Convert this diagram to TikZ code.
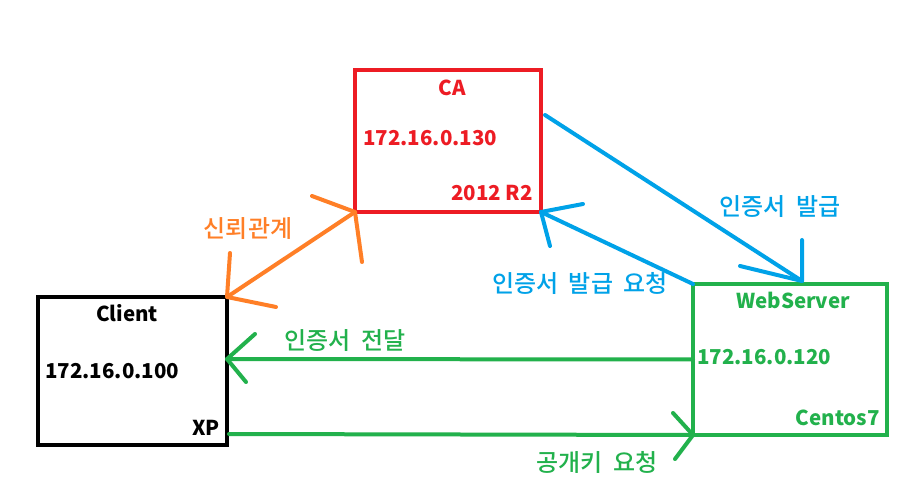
\documentclass[tikz,border=0pt]{standalone}
\usepackage{fontspec}
\setmainfont{Noto Sans CJK KR}
\newfontfamily\krfont{Noto Sans CJK KR Medium}[WordSpace=1.9]
\usetikzlibrary{calc}
\definecolor{pred}{RGB}{237,28,36}
\definecolor{pgreen}{RGB}{34,177,76}
\definecolor{pblue}{RGB}{0,162,232}
\definecolor{porange}{RGB}{255,127,39}
\tikzset{
  box/.style={draw, line width=4.5pt, inner sep=0pt, outer sep=0pt, anchor=north west},
  ln/.style={line width=4pt, line cap=round, line join=round},
  lat/.style={font=\fontsize{20.5}{22}\selectfont\bfseries, inner sep=0pt},
  kor/.style={font=\krfont\fontsize{24}{26}\selectfont, inner sep=0pt},
}
\begin{document}
\begin{tikzpicture}[x=1pt,y=-1pt]
\useasboundingbox[fill=white] (0,0) rectangle (907,502);
% boxes
\node[box, draw=pred, minimum width=186pt, minimum height=142pt] (ca) at (355,70) {};
\node[box, draw=black, minimum width=189pt, minimum height=148pt] (client) at (38,297) {};
\node[box, draw=pgreen, minimum width=194pt, minimum height=151pt] (ws) at (693,284) {};
% box texts
\node[lat, text=pred] (caname) at (452,88) {CA};
\node[lat, text=pred, anchor=west] (caip) at (363,138) {172.16.0.130};
\node[lat, text=pred, anchor=east] (caos) at (533,193) {2012 R2};
\node[lat, text=black] (clname) at (127,313) {Client};
\node[lat, text=black, anchor=west] (clip) at (45,371) {172.16.0.100};
\node[lat, text=black, anchor=east] (clos) at (220,428) {XP};
\node[lat, text=pgreen] (wsname) at (793,300) {WebServer};
\node[lat, text=pgreen, anchor=west] (wsip) at (697,357) {172.16.0.120};
\node[lat, text=pgreen, anchor=east] (wsos) at (880,418) {Centos7};
% labels
\node[kor, text=porange] (trust) at (248,229) {신뢰관계};
\node[kor, text=pblue] (issue) at (780,207) {인증서 발급};
\node[kor, text=pblue] (req) at (580,283) {인증서 발급 요청};
\node[kor, text=pgreen] (deliver) at (345,341) {인증서 전달};
\node[kor, text=pgreen] (pubreq) at (597,462) {공개키 요청};
% orange double arrow
\draw[ln, porange] (client.north east) -- (ca.south west);
\draw[ln, porange] (ca.south west) ++(-43,-16) -- (ca.south west) -- ++(7,50);
\draw[ln, porange] (client.north east) ++(3,-44) -- (client.north east) -- ++(49,10);
% blue arrow: issue
\draw[ln, pblue] ([xshift=4pt,yshift=-45pt]ca.north east) -- ([xshift=109pt,yshift=3pt]ws.north west);
\draw[ln, pblue] ([xshift=109pt,yshift=3pt]ws.north west) ++(0,-41) -- ([xshift=109pt,yshift=3pt]ws.north west) -- ++(-62,-15);
% blue arrow: request
\draw[ln, pblue] (ws.north west) -- (ca.south east);
\draw[ln, pblue] (ca.south east) ++(42,-8) -- (ca.south east) -- ++(9,34);
% green arrow: deliver
\draw[ln, pgreen] (ws.west) -- ([yshift=12pt]client.east);
\draw[ln, pgreen] ([yshift=12pt]client.east) ++(28,-25) -- ([yshift=12pt]client.east) -- ++(19,23);
% green arrow: public key request
\draw[ln, pgreen] ([xshift=2pt,yshift=11pt]client.south east) -- (ws.south west);
\draw[ln, pgreen] (ws.south west) ++(-20,-22) -- (ws.south west) -- ++(-18,24);
\end{tikzpicture}
\end{document}
